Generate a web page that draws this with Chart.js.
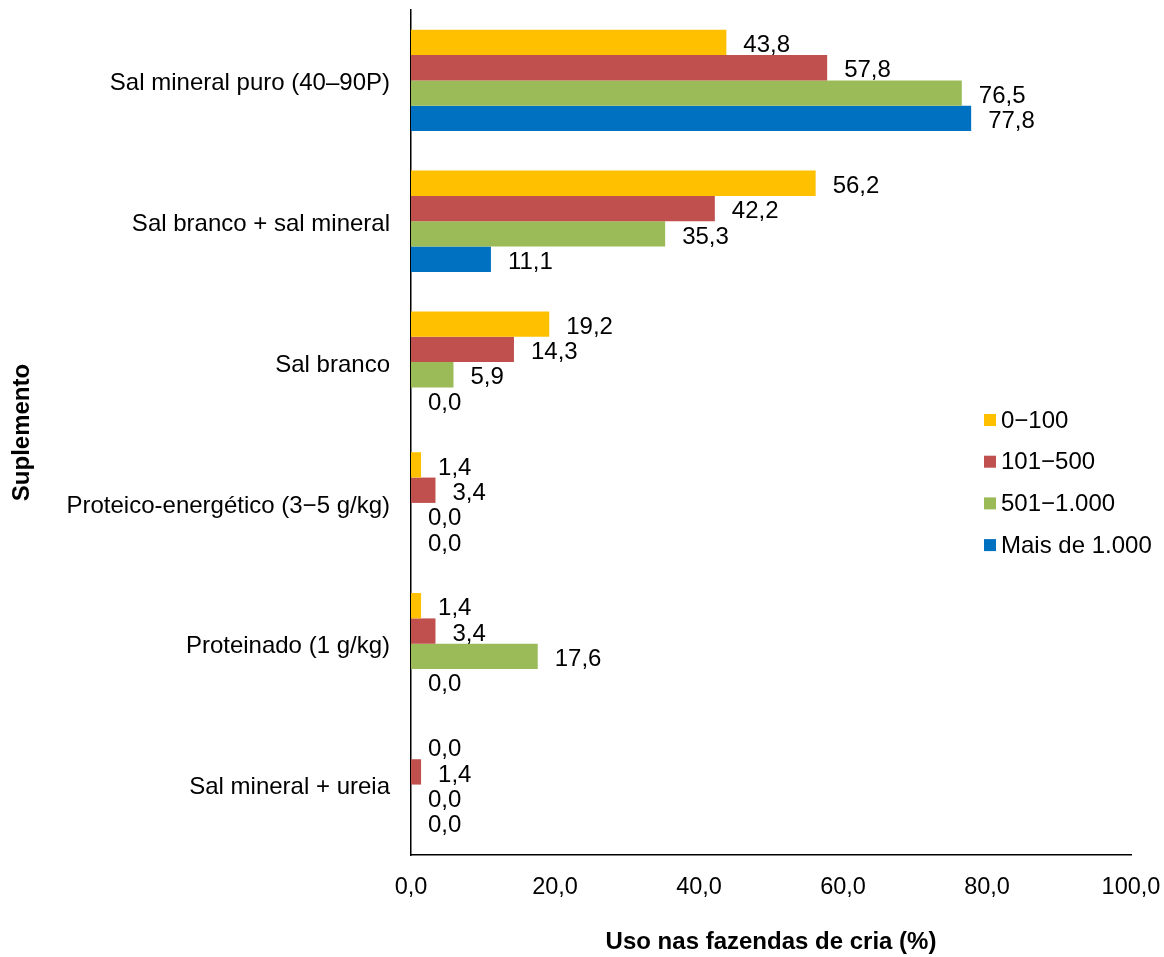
<!DOCTYPE html>
<html>
<head>
<meta charset="utf-8">
<script src="https://cdn.jsdelivr.net/npm/chart.js"></script>
<style>
  html, body { margin: 0; padding: 0; background: #fff; }
  #wrap { width: 1164px; height: 957px; }
</style>
</head>
<body>
<div id="wrap"><canvas id="chart"></canvas></div>
<script>
// Supplement use on cow-calf farms, by herd size
const categories = [
    'Sal mineral puro (40–90P)',
    'Sal branco + sal mineral',
    'Sal branco',
    'Proteico-energético (3−5 g/kg)',
    'Proteinado (1 g/kg)',
    'Sal mineral + ureia'
];
const seriesNames = ['0−100', '101−500', '501−1.000', 'Mais de 1.000'];
const seriesColors = ['#FFC000', '#C0504D', '#9BBB59', '#0070C0'];

const small = [43.8, 56.2, 19.2, 1.4, 1.4, 0.0];   // 0-100
const medium = [57.8, 42.2, 14.3, 3.4, 3.4, 1.4];  // 101-500
const large = [76.5, 35.3, 5.9, 0.0, 17.6, 0.0];   // 501-1.000
const xlarge = [77.8, 11.1, 0.0, 0.0, 0.0, 0.0];   // mais de 1.000

const xTicks = [0, 20, 40, 60, 80, 100];

const FONT = "'Liberation Sans', Arial, sans-serif";
const fmt = v => v.toFixed(1).replace('.', ',');

// value labels just past the end of each bar
const barLabels = {
    id: 'barLabels',
    afterDatasetsDraw(chart) {
        const ctx = chart.ctx;
        ctx.save();
        ctx.font = '24px ' + FONT;
        ctx.fillStyle = '#000';
        ctx.textAlign = 'left';
        ctx.textBaseline = 'middle';
        chart.data.datasets.forEach((ds, i) => {
            chart.getDatasetMeta(i).data.forEach((bar, j) => {
                ctx.fillText(fmt(ds.data[j]), bar.x + 17, bar.y + 3);
            });
        });
        ctx.restore();
    }
};

// legend drawn over the right side of the plot
const insideLegend = {
    id: 'insideLegend',
    afterDraw(chart) {
        const ctx = chart.ctx;
        ctx.save();
        ctx.font = '24px ' + FONT;
        ctx.textAlign = 'left';
        ctx.textBaseline = 'middle';
        chart.data.datasets.forEach((ds, i) => {
            const y = 420 + i * 41.7;
            ctx.fillStyle = ds.backgroundColor;
            ctx.fillRect(984, y - 6, 12, 12);
            ctx.fillStyle = '#000';
            ctx.fillText(ds.label, 1001, y + 1);
        });
        ctx.restore();
    }
};

const ctx = document.getElementById('chart').getContext('2d');
new Chart(ctx, {
    type: 'bar',
    data: {
        labels: categories,
        datasets: [small, medium, large, xlarge].map((d, i) => ({
            label: seriesNames[i],
            data: d,
            backgroundColor: seriesColors[i],
            borderWidth: 0,
            barPercentage: 1,
            categoryPercentage: 0.72
        }))
    },
    options: {
        indexAxis: 'y',
        responsive: true,
        maintainAspectRatio: false,
        animation: false,
        layout: { padding: { top: 10, right: 33, left: 0, bottom: 0 } },
        plugins: {
            legend: { display: false },
            tooltip: { enabled: false }
        },
        scales: {
            x: {
                min: 0,
                max: 100,
                afterBuildTicks(scale) {
                    scale.ticks = xTicks.map(v => ({ value: v }));
                },
                afterFit(scale) {
                    scale.height = 102;
                    scale.paddingLeft = 0;
                    scale.paddingRight = 0;
                },
                grid: { display: false, drawTicks: false },
                border: { color: '#000', width: 1.5 },
                ticks: {
                    color: '#000',
                    padding: 18,
                    maxRotation: 0,
                    font: { family: FONT, size: 23.5 },
                    callback: v => fmt(v)
                },
                title: {
                    display: true,
                    text: 'Uso nas fazendas de cria (%)',
                    color: '#000',
                    font: { family: FONT, size: 24, weight: 'bold' },
                    padding: { top: 0, bottom: 0 }
                }
            },
            y: {
                afterFit(scale) {
                    scale.width = 411;
                    scale.paddingTop = 0;
                    scale.paddingBottom = 0;
                },
                grid: { display: false, drawTicks: false },
                border: { color: '#000', width: 1.5 },
                ticks: {
                    color: '#000',
                    padding: 21,
                    labelOffset: 3,
                    font: { family: FONT, size: 24 }
                },
                title: {
                    display: true,
                    text: 'Suplemento',
                    color: '#000',
                    font: { family: FONT, size: 24, weight: 'bold' },
                    padding: { top: 8, bottom: 0 }
                }
            }
        }
    },
    plugins: [barLabels, insideLegend]
});
</script>
</body>
</html>
